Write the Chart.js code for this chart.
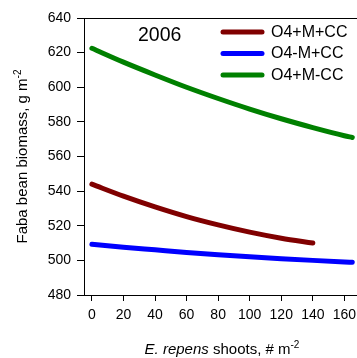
<!DOCTYPE html>
<html>
<head>
<meta charset="utf-8">
<script src="https://cdn.jsdelivr.net/npm/chart.js@4/dist/chart.umd.min.js"></script>
<style>
html,body{margin:0;padding:0;background:#fff;}
canvas{display:block;}
</style>
</head>
<body>
<canvas id="c" width="357" height="358"></canvas>
<script>
// ---- data ----
const xGreen = [0, 20, 40, 60, 80, 100, 120, 140, 160, 165];
const yGreen = [622.5, 614.5, 607.1, 600.0, 593.5, 587.4, 581.8, 576.7, 572.0, 571.0];
const xRed = [0, 20, 40, 60, 80, 100, 120, 140];
const yRed = [544.0, 537.1, 530.9, 525.3, 520.5, 516.3, 512.8, 510.0];
const xBlue = [0, 20, 40, 60, 80, 100, 120, 140, 160, 165];
const yBlue = [509.3, 507.6, 506.1, 504.6, 503.3, 502.1, 501.0, 500.0, 499.1, 498.9];
const seriesLabels = ["O4+M+CC", "O4-M+CC", "O4+M-CC"];
const seriesColors = ["#800000", "#0000ff", "#008000"];
const xTicks = [0, 20, 40, 60, 80, 100, 120, 140, 160];
const yTicks = [480, 500, 520, 540, 560, 580, 600, 620, 640];
const yearLabel = "2006";

const FONT = "'Liberation Sans', Arial, sans-serif";

function pts(xs, ys){ return xs.map((x,i)=>({x:x, y:ys[i]})); }

const dsBase = {borderWidth:5, pointRadius:0, fill:false, cubicInterpolationMode:'monotone', borderCapStyle:'round', borderJoinStyle:'round'};

function drawSup(ctx, parts, x, y, align){
  const widths = parts.map(p=>{
    ctx.font = (p.italic?'italic ':'') + (p.sup?'10px ':'15px ') + FONT;
    return ctx.measureText(p.t).width;
  });
  const total = widths.reduce((a,b)=>a+b,0);
  let cx = align==='center' ? x - total/2 : x;
  parts.forEach((p,i)=>{
    ctx.font = (p.italic?'italic ':'') + (p.sup?'10px ':'15px ') + FONT;
    ctx.fillText(p.t, cx, p.sup ? y-6 : y);
    cx += widths[i];
  });
}

const decor = {
  id:'decor',
  afterDraw(chart){
    const ctx = chart.ctx, a = chart.chartArea;
    ctx.save();
    ctx.strokeStyle = '#000'; ctx.lineWidth = 1;
    ctx.beginPath(); ctx.moveTo(a.left, a.top+0.5); ctx.lineTo(a.right, a.top+0.5); ctx.stroke();
    ctx.fillStyle = '#000';
    ctx.font = '19.5px ' + FONT;
    ctx.textAlign = 'left'; ctx.textBaseline = 'middle';
    ctx.fillText(yearLabel, 138, 36);
    const rows = [32, 53.5, 75];
    chart.data.datasets.forEach((d,i)=>{
      ctx.strokeStyle = d.borderColor; ctx.lineWidth = 5; ctx.lineCap = 'round';
      ctx.beginPath(); ctx.moveTo(223, rows[i]); ctx.lineTo(262, rows[i]); ctx.stroke();
      ctx.fillStyle = '#000';
      ctx.font = '16px ' + FONT; ctx.textBaseline = 'middle'; ctx.textAlign='left';
      ctx.fillText(d.label, 271, rows[i]+0.5);
    });
    ctx.textBaseline = 'alphabetic'; ctx.textAlign = 'left';
    drawSup(ctx, [{t:'E. repens', italic:true},{t:' shoots, # m'},{t:'-2', sup:true}], 222, 354, 'center');
    ctx.translate(27, (a.top+a.bottom)/2);
    ctx.rotate(-Math.PI/2);
    drawSup(ctx, [{t:'Faba bean biomass, g m'},{t:'-2', sup:true}], 0, 0, 'center');
    ctx.restore();
  }
};

new Chart(document.getElementById('c'), {
  type:'line',
  data:{
    datasets:[
      Object.assign({label:seriesLabels[0], data:pts(xRed,yRed), borderColor:seriesColors[0]}, dsBase),
      Object.assign({label:seriesLabels[1], data:pts(xBlue,yBlue), borderColor:seriesColors[1]}, dsBase),
      Object.assign({label:seriesLabels[2], data:pts(xGreen,yGreen), borderColor:seriesColors[2]}, dsBase)
    ]
  },
  options:{
    responsive:false, animation:false,
    layout:{padding:{left:0, top:18, right:0, bottom:0}},
    plugins:{legend:{display:false}, tooltip:{enabled:false}},
    scales:{
      x:{
        type:'linear', min:-5, max:168,
        afterBuildTicks: s => { s.ticks = xTicks.map(v=>({value:v})); },
        afterFit: s => { s.height = 63; s.paddingRight = 0; s.paddingLeft = 0; },
        border:{display:true, color:'#000', width:1},
        grid:{drawOnChartArea:false, tickLength:6, color:'#000'},
        ticks:{color:'#000', font:{family:FONT, size:14}, padding:6, maxRotation:0, autoSkip:false}
      },
      y:{
        type:'linear', min:480, max:640,
        afterBuildTicks: s => { s.ticks = yTicks.map(v=>({value:v})); },
        afterFit: s => { s.width = 84; s.paddingTop = 0; s.paddingBottom = 0; },
        border:{display:true, color:'#000', width:1},
        grid:{drawOnChartArea:false, tickLength:7, color:'#000'},
        ticks:{color:'#000', font:{family:FONT, size:14}, padding:6}
      }
    }
  },
  plugins:[decor]
});
</script>
</body>
</html>
